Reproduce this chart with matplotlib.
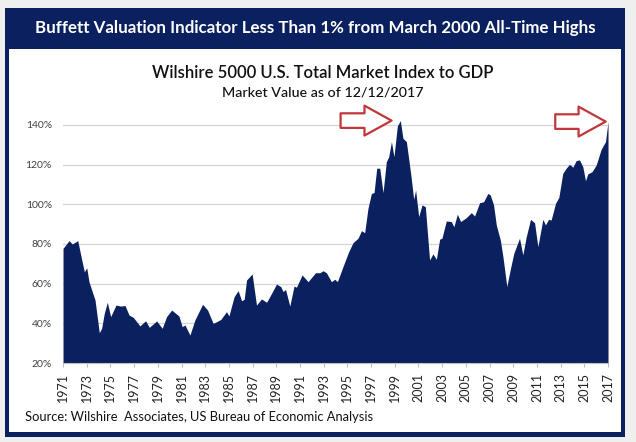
import numpy as np
import matplotlib
matplotlib.use("Agg")
import matplotlib.pyplot as plt
from matplotlib.patches import Rectangle

plt.rcParams['font.family'] = ['Lato', 'DejaVu Sans']

NAVY = "#0b205e"
RED = "#c0363a"

# Wilshire 5000 / GDP (year, percent)
years = [1971.00, 1971.51, 1971.78, 1972.24, 1972.58, 1972.80, 1973.00, 1973.19, 1973.42, 1973.70,
         1974.06, 1974.26, 1974.48, 1974.74, 1975.02, 1975.47, 1975.87, 1976.23, 1976.57, 1976.93,
         1977.49, 1977.97, 1978.28, 1978.90, 1979.37, 1979.74, 1980.17, 1980.78, 1981.06, 1981.29,
         1981.71, 1982.13, 1982.78, 1983.20, 1983.67, 1983.96, 1984.32, 1984.80, 1985.00, 1985.44,
         1985.78, 1986.07, 1986.29, 1986.49, 1986.96, 1987.33, 1987.75, 1988.18, 1988.60, 1989.02,
         1989.38, 1989.58, 1989.78, 1990.14, 1990.50, 1990.70, 1991.18, 1991.68, 1992.31, 1992.67,
         1992.95, 1993.23, 1993.65, 1993.93, 1994.16, 1994.63, 1995.11, 1995.48, 1995.90, 1996.19,
         1996.46, 1996.74, 1997.03, 1997.25, 1997.48, 1997.73, 1998.01, 1998.29, 1998.49, 1998.72,
         1998.93, 1999.22, 1999.47, 1999.69, 1999.98, 2000.34, 2000.60, 2000.76, 2001.02, 2001.30,
         2001.58, 2001.94, 2002.22, 2002.51, 2002.79, 2002.98, 2003.35, 2003.77, 2003.99, 2004.28,
         2004.56, 2005.04, 2005.46, 2005.74, 2006.16, 2006.50, 2006.86, 2007.06, 2007.34, 2007.57,
         2007.91, 2008.13, 2008.46, 2008.75, 2009.05, 2009.53, 2009.81, 2010.10, 2010.46, 2010.80,
         2011.08, 2011.50, 2011.72, 2011.98, 2012.20, 2012.57, 2012.85, 2013.18, 2013.47, 2013.75,
         2014.03, 2014.31, 2014.59, 2014.87, 2015.10, 2015.29, 2015.66, 2016.00, 2016.42, 2016.79,
         2017.00]
ratio = [77.8, 81.7, 80.0, 81.7, 72.0, 66.0, 68.0, 61.0, 56.8, 51.8,
         35.3, 37.5, 45.0, 50.6, 43.4, 49.2, 48.7, 49.0, 44.2, 43.0,
         38.7, 41.3, 38.0, 41.2, 37.5, 43.4, 46.7, 43.7, 38.3, 39.2,
         34.1, 41.7, 49.6, 46.7, 40.0, 40.8, 42.0, 45.9, 43.7, 53.4,
         56.5, 51.4, 52.1, 61.8, 64.9, 49.2, 52.3, 50.6, 55.1, 59.8,
         58.5, 56.0, 57.1, 48.7, 58.8, 58.2, 64.4, 61.0, 65.5, 65.5,
         66.5, 65.5, 61.0, 62.2, 61.0, 68.6, 76.1, 80.7, 82.9, 86.7,
         85.7, 98.0, 105.5, 105.9, 118.2, 118.2, 105.9, 121.5, 124.0, 131.6,
         124.0, 139.5, 142.2, 133.3, 131.6, 115.6, 102.5, 107.2, 93.8, 99.7,
         98.8, 71.9, 75.0, 72.3, 82.4, 82.9, 91.6, 91.3, 88.7, 95.0,
         91.3, 93.3, 95.8, 94.1, 100.8, 101.3, 105.5, 104.7, 99.7, 89.6,
         82.0, 73.6, 58.5, 67.2, 75.3, 82.9, 74.5, 83.7, 92.4, 90.7,
         78.6, 92.4, 89.6, 92.4, 92.1, 100.5, 103.5, 115.6, 118.2, 120.2,
         118.7, 122.0, 122.4, 119.0, 111.9, 115.3, 116.5, 119.8, 127.7, 131.6,
         141.7]

tick_years = list(range(1971, 2018, 2))
y_ticks = [20, 40, 60, 80, 100, 120, 140]

header = "Buffett Valuation Indicator Less Than 1% from March 2000 All-Time Highs"
title = "Wilshire 5000 U.S. Total Market Index to GDP"
subtitle = "Market Value as of 12/12/2017"
source = "Source: Wilshire  Associates, US Bureau of Economic Analysis"

fig = plt.figure(figsize=(6.36, 4.42), dpi=100)
fig.patch.set_facecolor("#efefef")

# frame: navy border + header band, white panel inside (behind the axes)
fig.patches.append(Rectangle((0.0079, 0.0113), 0.975, 0.9706, transform=fig.transFigure,
                             facecolor=NAVY, edgecolor="none", zorder=-3))
fig.patches.append(Rectangle((0.0142, 0.0226), 0.9623, 0.8665, transform=fig.transFigure,
                             facecolor="white", edgecolor="none", zorder=-2))

fig.text(0.495, 0.937, header, color="white", fontsize=12.2, fontweight="bold",
         ha="center", va="center")
fig.text(0.508, 0.835, title, color="#111111", fontsize=12, fontweight="semibold",
         ha="center", va="center")
fig.text(0.508, 0.790, subtitle, color="#111111", fontsize=10.3, fontweight="medium",
         ha="center", va="center")
fig.text(0.039, 0.057, source, color="#111111", fontsize=9.3, ha="left", va="center")

ax = fig.add_axes([0.0991, 0.1787, 0.8569, 0.5498])
ax.set_facecolor("none")
x = np.array(years)
y = np.array(ratio)
ax.fill_between(x, y, 20, color=NAVY, lw=0, zorder=2)

ax.set_xlim(1971, 2017)
ax.set_ylim(20, 142.5)
ax.set_yticks(y_ticks)
ax.set_yticklabels([f"{v}%" for v in y_ticks])
ax.set_xticks(tick_years)
ax.set_xticklabels([str(t) for t in tick_years], rotation=90)
ax.grid(axis="y", color="#d6d6d6", lw=0.9, zorder=1)
ax.tick_params(axis="y", length=0, pad=8, labelsize=7.5, labelcolor="#404040")
ax.tick_params(axis="x", length=3, width=0.8, color="#bfbfbf", pad=4,
               labelsize=9, labelcolor="#222222")
for s in ["top", "right", "left"]:
    ax.spines[s].set_visible(False)
ax.spines["bottom"].set_color("#bfbfbf")

# outlined red arrows at the 2000 peak and the latest value
peak = int(np.argmax(np.where(x < 2005, y, 0)))
arrow = dict(arrowstyle="simple,head_length=1.95,head_width=2.15,tail_width=1.05",
             mutation_scale=10, fc="white", ec=RED, lw=1.6, shrinkA=0)
ax.annotate("", xy=(x[peak], y[peak]), xytext=(-43, 0), textcoords="offset points",
            arrowprops=dict(arrow, shrinkB=6.3), annotation_clip=False, zorder=5)
ax.annotate("", xy=(x[-1], y[-1]), xytext=(-38, 0), textcoords="offset points",
            arrowprops=dict(arrow, shrinkB=1.7), annotation_clip=False, zorder=5)

fig.savefig("out.png", dpi=100, facecolor=fig.get_facecolor())
